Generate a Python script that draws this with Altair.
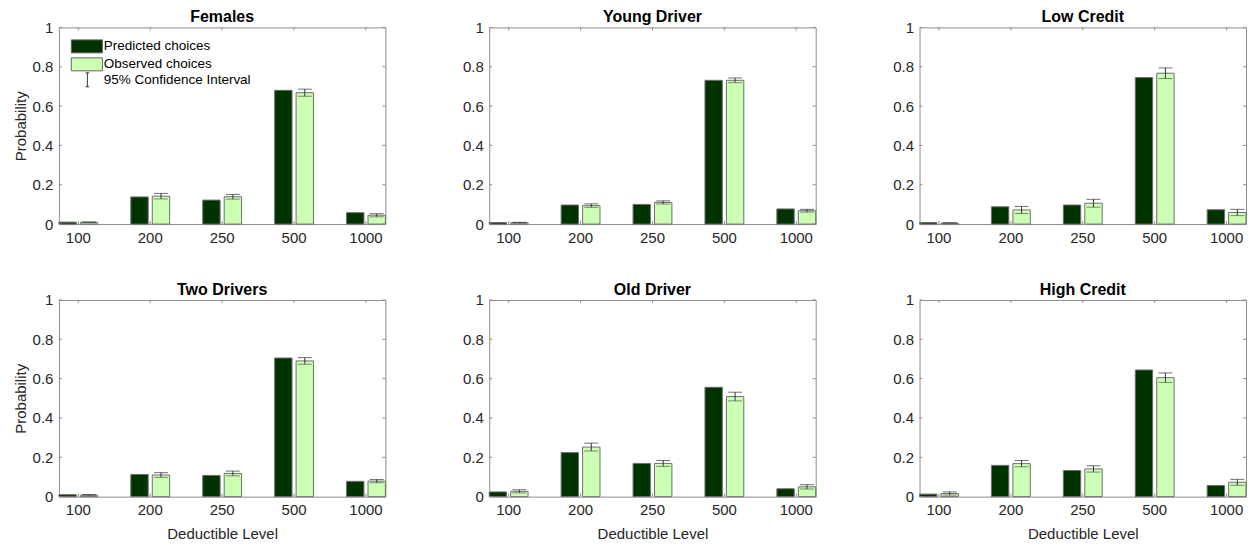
import altair as alt
import pandas as pd

categories = ["100", "200", "250", "500", "1000"]
panels = ["Females", "Young Driver", "Low Credit", "Two Drivers", "Old Driver", "High Credit"]
series_names = ["Predicted choices", "Observed choices"]
ci_label = "95% Confidence Interval"
y_ticks = [0, 0.2, 0.4, 0.6, 0.8, 1]

females_pred = [0.010, 0.138, 0.122, 0.680, 0.058]
females_obs = [0.009, 0.142, 0.139, 0.668, 0.045]
females_ci = [0.002, 0.014, 0.012, 0.018, 0.008]

young_pred = [0.008, 0.097, 0.100, 0.731, 0.077]
young_obs = [0.007, 0.094, 0.110, 0.731, 0.068]
young_ci = [0.002, 0.009, 0.008, 0.012, 0.007]

lowcredit_pred = [0.008, 0.088, 0.097, 0.745, 0.073]
lowcredit_obs = [0.005, 0.072, 0.106, 0.767, 0.059]
lowcredit_ci = [0.002, 0.018, 0.020, 0.027, 0.016]

two_pred = [0.010, 0.113, 0.108, 0.705, 0.078]
two_obs = [0.008, 0.110, 0.118, 0.690, 0.079]
two_ci = [0.003, 0.012, 0.012, 0.017, 0.008]

old_pred = [0.024, 0.224, 0.169, 0.556, 0.040]
old_obs = [0.027, 0.252, 0.169, 0.509, 0.050]
old_ci = [0.008, 0.020, 0.015, 0.022, 0.011]

high_pred = [0.013, 0.159, 0.133, 0.644, 0.057]
high_obs = [0.016, 0.168, 0.141, 0.605, 0.073]
high_ci = [0.008, 0.016, 0.016, 0.024, 0.015]

panel_data = {
    "Females": (females_pred, females_obs, females_ci),
    "Young Driver": (young_pred, young_obs, young_ci),
    "Low Credit": (lowcredit_pred, lowcredit_obs, lowcredit_ci),
    "Two Drivers": (two_pred, two_obs, two_ci),
    "Old Driver": (old_pred, old_obs, old_ci),
    "High Credit": (high_pred, high_obs, high_ci),
}

rows = []
for p in panels:
    pred, obs, ci = panel_data[p]
    for i, c in enumerate(categories):
        rows.append({"panel": p, "deductible": c, "series": series_names[0],
                     "value": pred[i], "lo": None, "hi": None, "ci": ci_label})
        rows.append({"panel": p, "deductible": c, "series": series_names[1],
                     "value": obs[i], "lo": obs[i] - ci[i], "hi": obs[i] + ci[i], "ci": ci_label})
df = pd.DataFrame(rows)
tick_df = pd.DataFrame({"t": y_ticks})

W, H = 327, 197
DARK, LIGHT = "#003300", "#ccffb3"
FONT = "Liberation Sans"
TXT = "#262626"
BOX = "#8c8c8c"

fill_legend = alt.Legend(
    title=None, orient="none", legendX=21, legendY=12,
    symbolType="M-2.4,-1H2.4V1H-2.4Z", symbolSize=169,
    symbolStrokeColor="#666666", symbolStrokeWidth=1,
    labelFont=FONT, labelFontSize=13.5, labelColor="black",
    labelOffset=10, rowPadding=0,
)
ci_legend = alt.Legend(
    title=None, orient="none", legendX=21, legendY=45,
    symbolType="M-0.25,-1H0.25M0,-1V1M-0.25,1H0.25", symbolSize=196,
    symbolStrokeWidth=1, symbolFillColor="transparent",
    labelFont=FONT, labelFontSize=13.5, labelColor="black",
    labelOffset=9,
)


def make_panel(name, r, c):
    base = alt.Chart(df).transform_filter(alt.datum.panel == name)
    xscale = alt.Scale(domain=categories, paddingInner=0.46, paddingOuter=0)
    yscale = alt.Scale(domain=[0, 1], nice=False)
    xoff = alt.XOffset("series:N", scale=alt.Scale(domain=series_names, paddingInner=0.19, paddingOuter=0))
    xaxis = alt.Axis(title="Deductible Level" if r == 1 else "", labelAngle=0, labelPadding=6,
                     titlePadding=9, labelFontSize=15, titleFontSize=15, labelFont=FONT,
                     titleFont=FONT, labelColor=TXT, titleColor=TXT, titleFontWeight="normal",
                     ticks=False, domain=False, grid=False)
    yaxis = alt.Axis(title="Probability" if c == 0 else "", values=y_ticks, format="~g",
                     labelPadding=6, titlePadding=4, labelFontSize=15, titleFontSize=15,
                     labelFont=FONT, titleFont=FONT, labelColor=TXT, titleColor=TXT,
                     titleFontWeight="normal", ticks=False, domain=False, grid=False)

    xenc = alt.X("deductible:N", scale=xscale, axis=xaxis, sort=categories)

    def yenc(field):
        return alt.Y(field, scale=yscale, axis=yaxis)

    bars = base.mark_bar(stroke="#6e6e6e", strokeWidth=1).encode(
        x=xenc,
        xOffset=xoff,
        y=yenc("value:Q"),
        fill=alt.Fill("series:N", scale=alt.Scale(domain=series_names, range=[DARK, LIGHT]),
                      legend=fill_legend),
    )
    obs = base.transform_filter(alt.datum.series == series_names[1])
    rule = obs.mark_rule(strokeWidth=1).encode(
        x=xenc,
        xOffset=xoff,
        y=yenc("lo:Q"),
        y2="hi:Q",
        stroke=alt.Stroke("ci:N", scale=alt.Scale(domain=[ci_label], range=["#333333"]),
                          legend=ci_legend),
    )
    cap_lo = obs.mark_tick(orient="horizontal", size=14, thickness=1, color="#555555").encode(
        x=xenc, xOffset=xoff, y=yenc("lo:Q"),
    )
    cap_hi = obs.mark_tick(orient="horizontal", size=14, thickness=1, color="#333333").encode(
        x=xenc, xOffset=xoff, y=yenc("hi:Q"),
    )
    tick_base = alt.Chart(tick_df)
    left_ticks = tick_base.mark_rule(color=BOX).encode(
        y=yenc("t:Q"), x=alt.value(0), x2=alt.value(3))
    right_ticks = tick_base.mark_rule(color=BOX).encode(
        y=yenc("t:Q"), x=alt.value(W - 3), x2=alt.value(W))
    cat_base = base.transform_filter(alt.datum.series == series_names[0])
    top_ticks = cat_base.mark_rule(color=BOX).encode(
        x=xenc, y=alt.value(0), y2=alt.value(3))
    bot_ticks = cat_base.mark_rule(color=BOX).encode(
        x=xenc, y=alt.value(H - 3), y2=alt.value(H))

    return alt.layer(bars, rule, cap_lo, cap_hi, left_ticks, right_ticks, top_ticks, bot_ticks).properties(
        width=W, height=H,
        title=alt.TitleParams(name, font=FONT, fontSize=16, fontWeight="bold", color="black", offset=-5),
    )


charts = [make_panel(p, i // 3, i % 3) for i, p in enumerate(panels)]
chart = alt.concat(*charts, columns=3, spacing={"row": 76, "column": 104}, bounds="flush").properties(
    padding={"left": 4, "top": 0, "right": 5, "bottom": 5},
    background="white",
).configure_view(
    stroke=BOX, strokeWidth=1
)

chart.save("out.html", embed_options={"renderer": "svg", "actions": False})
